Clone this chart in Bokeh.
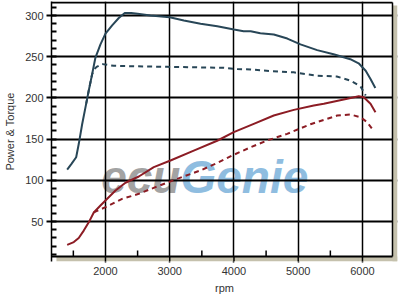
from bokeh.plotting import figure
from bokeh.models import Range1d, SingleIntervalTicker
from bokeh.core.properties import value
from bokeh.embed import file_html
from bokeh.resources import INLINE

# Power (solid blue)
power_rpm = [1404, 1471, 1544, 1584, 1637, 1700, 1740, 1793, 1844, 1922, 2000, 2104, 2207, 2300, 2400,
             2500, 2700, 3000, 3220, 3480, 3740, 4000, 4150, 4260, 4410, 4620, 4830, 5035, 5295,
             5550, 5810, 5940, 6050, 6125, 6200]
power_val = [113, 120, 128, 144, 168, 193, 209, 229, 249, 265, 278, 288, 297, 303, 303,
             302, 300, 298, 294, 290, 287, 283, 281, 281, 278.5, 277, 272, 265, 258,
             253, 247, 242, 233, 223, 212]

# Power stock (dashed blue)
power_stock_rpm = [1700, 1740, 1793, 1840, 1870, 1950, 2130, 2400, 2700, 2960, 3480, 3840, 4050,
                   4260, 4570, 4930, 5295, 5600, 5810, 5970, 6050]
power_stock_val = [193, 209, 229, 236, 238, 241, 239, 238.5, 238, 237.7, 237, 236.5, 235,
                   234.5, 232.5, 231, 227, 226, 221, 214, 203]

# Torque (solid red)
torque_rpm = [1404, 1507, 1584, 1662, 1740, 1818, 1922, 2000, 2156, 2311, 2519, 2752, 3012, 3374,
              3738, 3997, 4308, 4619, 4931, 5242, 5398, 5762, 5942, 6020, 6125, 6202]
torque_val = [21.7, 25, 30, 39, 49, 61, 69.4, 75.5, 87.6, 97, 104.6, 116, 124, 136,
              148, 158.4, 168.5, 178.6, 185.5, 190.8, 192.8, 198.9, 202, 200.8, 192.8, 182.6]

# Torque stock (dashed red)
torque_stock_rpm = [1818, 1844, 2000, 2259, 2519, 2778, 3116, 3479, 3738, 3997, 4257, 4516, 4828,
                    5191, 5606, 5813, 5969, 6073, 6151]
torque_stock_val = [61, 62, 67.4, 77.5, 83.6, 91.7, 101.8, 112, 121, 131, 140, 148.3, 156.4,
                    168, 178.6, 179.8, 176.6, 170.5, 162.5]

# ticks
x_major = [2000, 3000, 4000, 5000, 6000]
x_minor = [1500, 2500, 3500, 4500, 5500]

BLUE = "#284657"
RED = "#8c1c24"
INK = "#000000"
SHADOW = "#c5c1ad"
FONT = "Liberation Sans"
LW_V = 1.5   # vertical rules
LW_H = 2     # horizontal rules

# plotting box (inner) and frame (box + drop shadow)
X0, X1 = 1160, 6545          # frame x extent
Y0, Y1 = 1.46, 317.0         # frame y extent
XR, YB, YT = 6467, 7.5, 315.8  # plot box right / bottom / top
SH_LEFT, SH_TOP = 1237, 312.1  # where the drop shadow starts

p = figure(width=414, height=303, x_range=Range1d(X0, X1), y_range=Range1d(Y0, Y1),
           output_backend="svg", toolbar_location=None,
           min_border_left=51, min_border_right=17, min_border_top=1, min_border_bottom=42)
p.outline_line_color = None

xt = SingleIntervalTicker(interval=1000, num_minor_ticks=2)
yt = SingleIntervalTicker(interval=50, num_minor_ticks=5)
p.xaxis.ticker = xt
p.yaxis.ticker = yt
p.xgrid.ticker = xt
p.ygrid.ticker = yt
p.xgrid.grid_line_color = INK
p.xgrid.grid_line_width = LW_V
p.ygrid.grid_line_color = INK
p.ygrid.grid_line_width = LW_H

for ax in (p.xaxis, p.yaxis):
    ax.axis_line_color = INK
    ax.major_tick_line_color = INK
    ax.minor_tick_line_color = INK
    ax.major_tick_in = 0
    ax.minor_tick_out = 0
    ax.major_label_text_font = FONT
    ax.major_label_text_font_size = "11px"
    ax.major_label_text_color = "#333333"
    ax.axis_label_text_font = FONT
    ax.axis_label_text_font_size = "11px"
    ax.axis_label_text_font_style = "normal"
    ax.axis_label_text_color = "#333333"

p.xaxis.axis_line_color = None
p.xaxis.minor_tick_line_color = None
p.xaxis.major_tick_line_width = LW_V
p.xaxis.major_tick_out = 1
p.xaxis.major_label_standoff = 4
p.xaxis.axis_label = "rpm"
p.xaxis.axis_label_standoff = 4
p.yaxis.axis_line_width = LW_V
p.yaxis.major_tick_line_width = LW_H
p.yaxis.minor_tick_line_width = LW_H
p.yaxis.major_tick_out = 5
p.yaxis.minor_tick_in = 5
p.yaxis.major_label_standoff = 3
p.yaxis.axis_label = "Power & Torque"
p.yaxis.axis_label_standoff = 6

# watermark (below the grid)
p.text(x=[3167], y=[104.5], text=["ecu"], text_align="right", text_baseline="alphabetic",
       text_font=value(FONT), text_font_style="bold italic",
       text_font_size="46px", text_color="#a3a3a3", level="image")
p.text(x=[3167], y=[104.5], text=["Genie"], text_align="left", text_baseline="alphabetic",
       text_font=value(FONT), text_font_style="bold italic",
       text_font_size="46px", text_color="#8fbde0", level="image")

p.line(power_rpm, power_val, line_color=BLUE, line_width=2)
p.line(power_stock_rpm, power_stock_val, line_color=BLUE, line_width=2, line_dash="5 4")
p.line(torque_rpm, torque_val, line_color=RED, line_width=2)
p.line(torque_stock_rpm, torque_stock_val, line_color=RED, line_width=2, line_dash="5 4")

# drop shadow
p.quad(left=[XR], right=[X1], bottom=[Y0], top=[SH_TOP], fill_color=SHADOW, line_color=None)
p.quad(left=[SH_LEFT], right=[X1], bottom=[Y0], top=[YB], fill_color=SHADOW, line_color=None)

# plot box edges
p.segment(x0=[X0, X0], x1=[XR, XR], y0=[YT, YB], y1=[YT, YB],
          line_color=INK, line_width=LW_H)
p.segment(x0=[XR], x1=[XR], y0=[YB], y1=[YT], line_color=INK, line_width=LW_V)

# x ticks on the box bottom
p.segment(x0=x_major, x1=x_major, y0=[YB] * len(x_major), y1=[Y0] * len(x_major),
          line_color=INK, line_width=LW_V)
p.segment(x0=x_minor, x1=x_minor, y0=[YB] * len(x_minor), y1=[YB + 7.3] * len(x_minor),
          line_color=INK, line_width=LW_V)

open("out.html", "w").write(file_html(p, INLINE))
